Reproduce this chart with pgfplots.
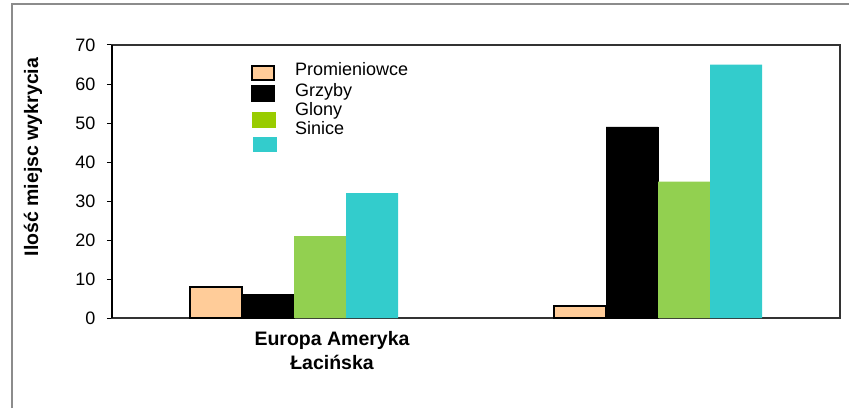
\documentclass[border=0pt]{standalone}
\usepackage{fontspec}
\setmainfont{Liberation Sans}
\usepackage{pgfplots}
\pgfplotsset{compat=1.18}
\definecolor{cPro}{HTML}{FFCC99}
\definecolor{cGly}{HTML}{92D050}
\definecolor{cGlyL}{HTML}{99CC00}
\definecolor{cSin}{HTML}{33CCCC}
\begin{document}
\begin{tikzpicture}[x=1pt,y=1pt]
\useasboundingbox (0,0) rectangle (849,408);
\draw[black!45, line width=1.2pt] (12,0) -- (12,404) -- (849,404);
\begin{axis}[at={(112pt,90pt)}, anchor=south west, scale only axis,
  width=728pt, height=273pt,
  xmin=0.5, xmax=2.5, ymin=0, ymax=70,
  ytick={0,10,...,70}, xtick=\empty,
  ybar=0pt, bar width=52pt,
  tick align=outside, ytick pos=left, major tick length=5pt,
  tick style={black, line width=1pt},
  axis line style={black!80, line width=1.6pt},
  yticklabel style={font=\fontsize{18}{20}\selectfont, xshift=-8pt},
  /pgf/number format/assume math mode=true,
  clip=false]
\addplot[fill=cPro, draw=black, line width=1.8pt] coordinates {(1,8) (2,3)};
\addplot[fill=black, draw=black] coordinates {(1,6) (2,49)};
\addplot[fill=cGly, draw=none] coordinates {(1,21) (2,35)};
\addplot[fill=cSin, draw=none] coordinates {(1,32) (2,65)};
\end{axis}
\draw[black, line width=1.8pt] (112,90) -- (112,363);
% y label
\node[rotate=90, font=\bfseries\fontsize{19.5}{22}\selectfont] at (33,251) {Ilość miejsc wykrycia};
% category label
\node[font=\bfseries\fontsize{19.5}{22}\selectfont, align=center, anchor=base] at (332,63) {Europa Ameryka};
\node[font=\bfseries\fontsize{19.5}{22}\selectfont, align=center, anchor=base] at (332,39) {Łacińska};
% legend
\fill[cPro, draw=black, line width=2pt] (252,327.5) rectangle (274,341.5);
\fill[black] (251,306) rectangle (275,323);
\fill[cGlyL] (252,280) rectangle (276,296);
\fill[cSin] (253,256) rectangle (277,271);
\begin{scope}[every node/.style={anchor=base west, inner sep=0pt, font=\fontsize{18}{20}\selectfont}]
\node at (295,332) {Promieniowce};
\node at (295,312) {Grzyby};
\node at (295,293) {Glony};
\node at (295,274) {Sinice};
\end{scope}
\end{tikzpicture}
\end{document}
